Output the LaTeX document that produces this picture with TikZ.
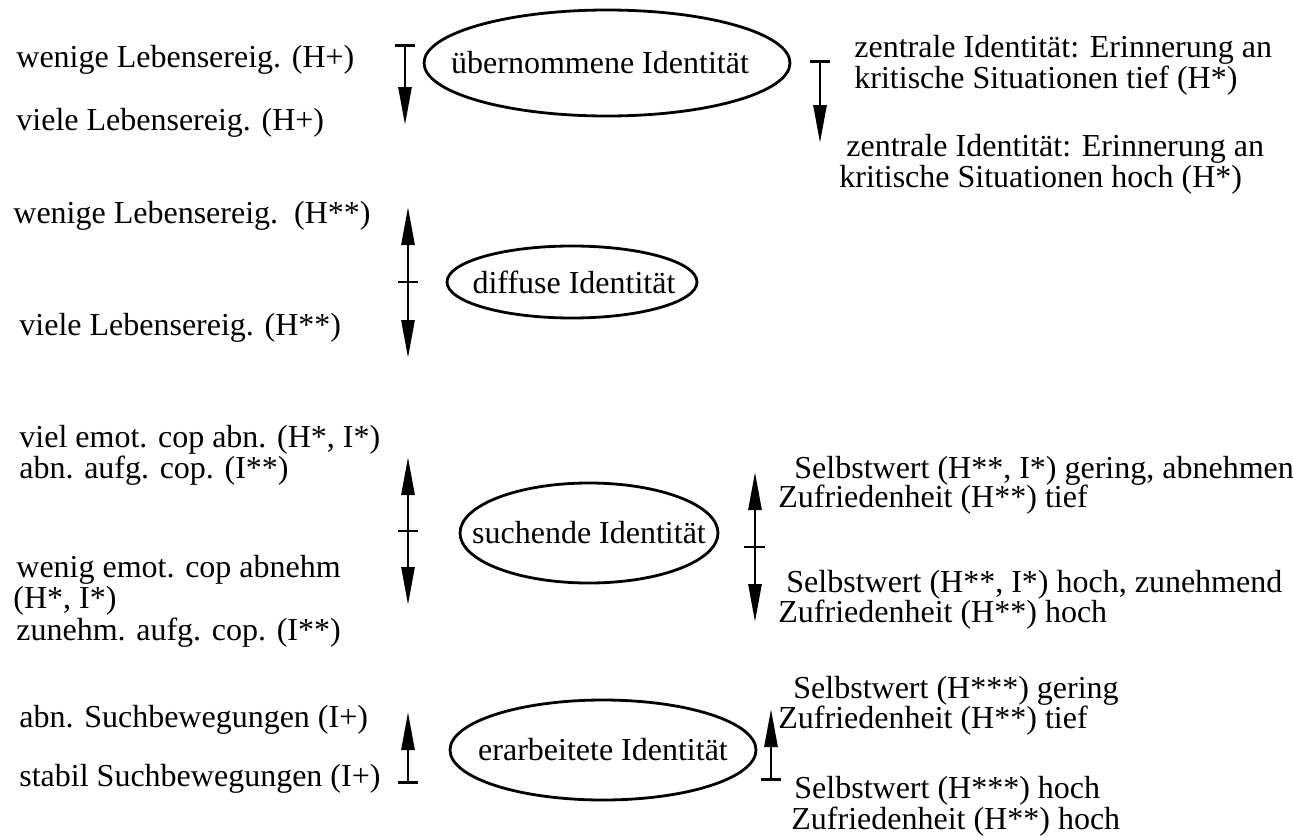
\documentclass[tikz,border=0pt]{standalone}
\usepackage{fontspec}
\setmainfont{Liberation Serif}
\usetikzlibrary{arrows.meta}
\usetikzlibrary{positioning}
\newcommand{\labfont}{\fontsize{32}{31}\selectfont}

\begin{document}
\begin{tikzpicture}[x=1pt,y=-1pt,line width=2.8pt,
    ident node/.style={inner sep=0pt,font=\labfont},
    txt node/.style={anchor=base west,inner sep=0pt,font=\labfont},
    trendhead/.tip={Triangle[length=38pt,width=13pt]},
    stopbar/.tip={Bar[width=20pt]}]
   \useasboundingbox (0,0) rectangle (1293,836);
   % Identitaetsstatus
   \node[ident node] (uebern) at (600,63) {übernommene Identität};
   \node[ident node] (diffus) at (574,282) {diffuse Identität};
   \node[ident node] (suchend) at (589,533) {suchende Identität};
   \node[ident node] (erarb) at (603,750) {erarbeitete Identität};
   \draw ([xshift=7pt]uebern.center) ellipse [x radius=183pt, y radius=53pt];
   \draw ([xshift=-2pt]diffus.center) ellipse [x radius=125pt, y radius=36pt];
   \draw (suchend.center) ellipse [x radius=129pt, y radius=50pt];
   \draw (erarb.center) ellipse [x radius=153pt, y radius=50pt];
   % linke Seite
   \node[txt node] (lw1) at (15,67) {wenige Lebensereig. (H+)};
   \node[txt node] (lv1) at (15,130) {viele Lebensereig. (H+)};
   \node[txt node] (lw2) at (12,223) {wenige Lebensereig.\ \ (H**)};
   \node[txt node] (lv2) at (18,335) {viele Lebensereig. (H**)};
   \node[txt node] (le1) at (18,447) {viel emot. cop abn. (H*, I*)};
   \node[txt node] (la1) at (18,478) {abn. aufg. cop. (I**)};
   \node[txt node] (le2) at (15,577) {wenig emot. cop abnehm};
   \node[txt node] (le3) at (12,608) {(H*, I*)};
   \node[txt node] (la2) at (15,640) {zunehm. aufg. cop. (I**)};
   \node[txt node] (ls1) at (18,727) {abn. Suchbewegungen (I+)};
   \node[txt node] (ls2) at (18,786) {stabil Suchbewegungen (I+)};
   % rechte Seite
   \node[txt node] (zt1) at (853,57) {zentrale Identität: Erinnerung an};
   \node[txt node] (zt2) at (853,88) {kritische Situationen tief (H*)};
   \node[txt node] (zh1) at (845,156) {zentrale Identität: Erinnerung an};
   \node[txt node] (zh2) at (838,187) {kritische Situationen hoch (H*)};
   \node[txt node] (sg1) at (793,478) {Selbstwert (H**, I*) gering, abnehmend};
   \node[txt node] (zf1) at (777,507) {Zufriedenheit (H**) tief};
   \node[txt node] (sh1) at (785,592) {Selbstwert (H**, I*) hoch, zunehmend};
   \node[txt node] (zf2) at (777,622) {Zufriedenheit (H**) hoch};
   \node[txt node] (sg2) at (792,698) {Selbstwert (H***) gering};
   \node[txt node] (zf3) at (777,728) {Zufriedenheit (H**) tief};
   \node[txt node] (sh2) at (793,798) {Selbstwert (H***) hoch};
   \node[txt node] (zf4) at (790,829) {Zufriedenheit (H**) hoch};
   % Pfeile
   \coordinate (p1a) at (405,44);  \coordinate (p1b) at (405,125);
   \coordinate (p2a) at (820,60);  \coordinate (p2b) at (820,143);
   \coordinate (p3a) at (408,207); \coordinate (p3m) at (408,282); \coordinate (p3b) at (408,358);
   \coordinate (p4a) at (408,457); \coordinate (p4m) at (408,531); \coordinate (p4b) at (408,605);
   \coordinate (p5a) at (755,472); \coordinate (p5m) at (755,547); \coordinate (p5b) at (755,622);
   \coordinate (p6a) at (408,784); \coordinate (p6b) at (408,712);
   \coordinate (p7a) at (771,781); \coordinate (p7b) at (771,709);
   \draw[stopbar-trendhead] (p1a) -- (p1b);
   \draw[stopbar-trendhead] (p2a) -- (p2b);
   \draw[trendhead-trendhead] (p3a) -- (p3b);
   \draw[trendhead-trendhead] (p4a) -- (p4b);
   \draw[trendhead-trendhead] (p5a) -- (p5b);
   \draw[stopbar-trendhead] (p6a) -- (p6b);
   \draw[stopbar-trendhead] (p7a) -- (p7b);
   \draw ([xshift=-10pt]p3m) -- ([xshift=10pt]p3m);
   \draw ([xshift=-10pt]p4m) -- ([xshift=10pt]p4m);
   \draw ([xshift=-11pt]p5m) -- ([xshift=10pt]p5m);
\end{tikzpicture}
\end{document}
